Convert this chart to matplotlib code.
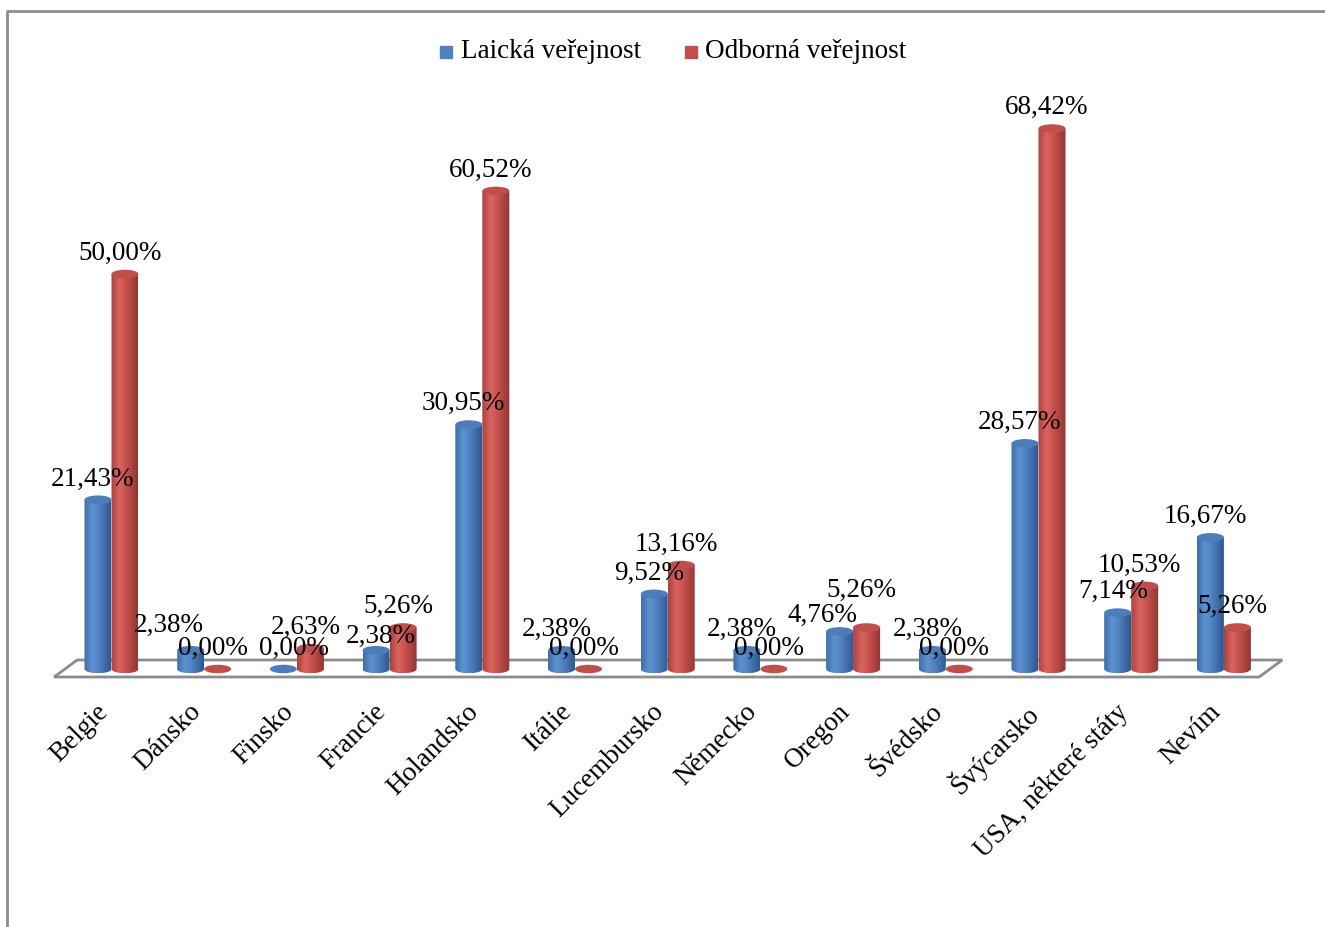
import numpy as np
import matplotlib.pyplot as plt
from matplotlib.patches import Ellipse, PathPatch, Polygon, Rectangle
from matplotlib.path import Path
from matplotlib.colors import LinearSegmentedColormap
from matplotlib.lines import Line2D

plt.rcParams['font.family'] = ['Liberation Serif', 'DejaVu Serif']

staty = ['Belgie', 'Dánsko', 'Finsko', 'Francie', 'Holandsko', 'Itálie',
         'Lucembursko', 'Německo', 'Oregon', 'Švédsko', 'Švýcarsko',
         'USA, některé státy', 'Nevím']
laicka = [21.43, 2.38, 0.00, 2.38, 30.95, 2.38, 9.52, 2.38, 4.76, 2.38,
          28.57, 7.14, 16.67]
odborna = [50.00, 0.00, 2.63, 5.26, 60.52, 0.00, 13.16, 0.00, 5.26, 0.00,
           68.42, 10.53, 5.26]
serie = ['Laická veřejnost', 'Odborná veřejnost']

# posun popisku (px) tam, kde by se prekryvaly: index -> (dx, dy)
posun_laicka = {1: (-17, -4), 2: (16, 0), 3: (10, 7), 8: (-12, 5)}
posun_odborna = {8: (0, -16)}

W, H = 1325, 927
fig = plt.figure(figsize=(W / 100, H / 100), dpi=100)
ax = fig.add_axes([0, 0, 1, 1])
ax.axis('off')

# pixely -> jednotky dat
px_cat = 92.7      # px na kategorii
px_val = 7.9       # px na procento
x0_px, y0_px = 111.5, 669
ax.set_xlim(-x0_px / px_cat, (W - x0_px) / px_cat)
ax.set_ylim(-(H - y0_px) / px_val, y0_px / px_val)

half_w = 13.5 / px_cat
ell_h = 8.5 / px_val

# podlaha
n = len(staty)
floor = Polygon([(-0.62, -8 / px_val), (n - 1 + 0.38, -8 / px_val),
                 (n - 1 + 0.63, 9 / px_val), (-0.37, 9 / px_val)],
                closed=True, facecolor='white', edgecolor='#8c8c8c', lw=2, zorder=1)
ax.add_patch(floor)

cm_blue = LinearSegmentedColormap.from_list(
    'b', [(0, '#3f6ea9'), (0.3, '#5e92d4'), (0.55, '#4f82c0'), (1, '#2f5890')])
cm_red = LinearSegmentedColormap.from_list(
    'r', [(0, '#a9423f'), (0.3, '#d96460'), (0.55, '#c8524e'), (1, '#923634')])
grad = np.linspace(0, 1, 64).reshape(1, -1)


def valec(xc, v, cmap, top_col, z):
    a, b = half_w, ell_h / 2
    if v <= 0:
        ax.add_patch(Ellipse((xc, 0), 2 * a, 2 * b, facecolor=top_col,
                             edgecolor='none', zorder=z))
        return
    th = np.linspace(np.pi, 2 * np.pi, 40)
    pts = np.column_stack([xc + a * np.cos(th), b * np.sin(th)])
    pts = np.vstack([pts, [xc + a, v], [xc - a, v], pts[:1]])
    patch = PathPatch(Path(pts), facecolor='none', edgecolor='none', zorder=z)
    ax.add_patch(patch)
    im = ax.imshow(grad, cmap=cmap, extent=[xc - a, xc + a, -b, v],
                   aspect='auto', zorder=z, interpolation='bilinear')
    im.set_clip_path(patch)
    ax.add_patch(Ellipse((xc, v), 2 * a, 2 * b, facecolor=top_col,
                         edgecolor='none', zorder=z + 0.1))


x = np.arange(n)
for i in range(n):
    valec(x[i] - half_w, laicka[i], cm_blue, '#4b7dbb', 3 + i * 0.5)
    valec(x[i] + half_w, odborna[i], cm_red, '#bf4f4b', 3.2 + i * 0.5)

fs = 19.5
lab_dy = 10 / px_val + ell_h / 2
for i in range(n):
    for xs, v, posun in ((x[i] - half_w, laicka[i], posun_laicka),
                         (x[i] + half_w, odborna[i], posun_odborna)):
        dx, dy = posun.get(i, (0, 0))
        ax.text(xs + (dx - 5) / px_cat, v + lab_dy - dy / px_val,
                f'{v:.2f}%'.replace('.', ','),
                ha='center', va='baseline', fontsize=fs, zorder=20)

for i, s in enumerate(staty):
    ax.text(x[i] - 16 / px_cat, -30 / px_val, s, rotation=45, ha='right',
            va='top', rotation_mode='anchor', fontsize=fs, zorder=20)

# legenda
for sx, tx, col, s in ((440, 461, '#4f81bd', serie[0]),
                       (685, 705, '#c0504d', serie[1])):
    fig.add_artist(Rectangle((sx / W, 1 - 58 / H), 12 / W, 12 / H,
                             transform=fig.transFigure, color=col))
    fig.text(tx / W, 1 - 52 / H, s, fontsize=fs, va='center', ha='left')

# ramecek
fig.add_artist(Line2D([7 / W, 7 / W, 1], [0, 1 - 11 / H, 1 - 11 / H],
                      transform=fig.transFigure, color='#8c8c8c', lw=2))

fig.savefig('out.png', dpi=100)
